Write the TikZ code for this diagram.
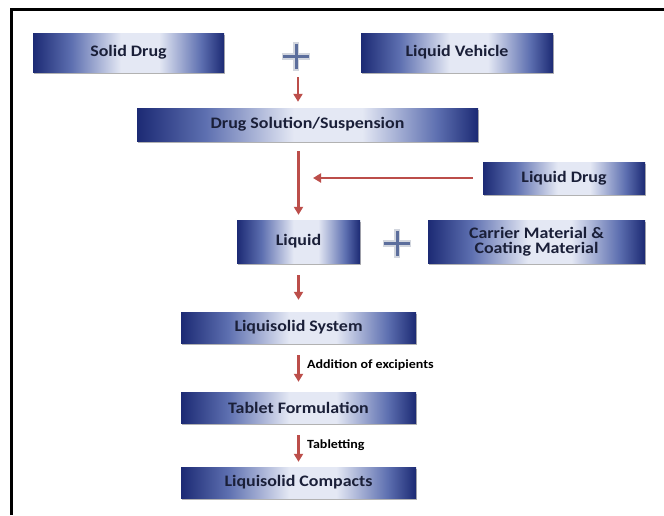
\documentclass[tikz,border=0pt]{standalone}
\usepackage{fontspec}
\setmainfont{Carlito}
\newfontfamily\boxfont[FakeStretch=1.12]{Carlito}
\usetikzlibrary{shadows,arrows.meta}
\definecolor{navy}{HTML}{1C2A74}
\definecolor{boxmid}{HTML}{5D6FB0}
\definecolor{boxlight}{HTML}{E4E8F4}
\definecolor{arrowred}{HTML}{BC4E4A}
\definecolor{boxtext}{HTML}{1A1F38}
\definecolor{plusblue}{HTML}{5C6E9C}
\definecolor{plusedge}{HTML}{D2D6DE}
\pgfdeclarehorizontalshading{boxshade}{100bp}{color(0bp)=(navy); color(25bp)=(navy); color(35bp)=(boxmid); color(48bp)=(boxlight); color(58bp)=(boxlight); color(69bp)=(boxmid); color(75bp)=(navy); color(100bp)=(navy)}
\tikzset{
  stage/.style={rectangle, shading=boxshade, shading angle=0, draw=none,
    inner sep=0pt, text=boxtext, align=center,
    font=\boxfont\bfseries\fontsize{16}{17}\selectfont,
    drop shadow={shadow xshift=0.8pt, shadow yshift=-1.5pt, opacity=0.3, fill=black}},
  flow/.style={draw=arrowred, line width=2.2pt, -{Triangle[length=8pt,width=9pt]}},
  plussign/.style={minimum size=28pt, inner sep=0pt},
  plusouter/.style={draw=plusedge, line width=6.5pt},
  plusinner/.style={draw=plusblue, line width=3pt},
  note/.style={anchor=west, inner sep=0pt, text=black, font=\boxfont\bfseries\fontsize{12.5}{14}\selectfont},
  frameline/.style={draw=black, line width=3pt}
}
\begin{document}
\begin{tikzpicture}[x=1pt,y=-1pt]
\useasboundingbox (0,0) rectangle (664,515);
\fill[white] (0,0) rectangle (664,515);
% frame
\coordinate (fa) at (11,515);
\coordinate (fb) at (11,9);
\coordinate (fc) at (664,9);
\draw[frameline] (fa) -- (fb) -- (fc);

% boxes
\node[stage, minimum width=191pt, minimum height=39pt] (solid) at (128.5,52.5) {Solid Drug};
\node[stage, minimum width=192pt, minimum height=39pt] (vehicle) at (457,52.5) {Liquid Vehicle};
\node[plussign] (plus1) at (296,56.5) {};
\node[stage, minimum width=341pt, minimum height=33pt] (sol) at (307.5,124.5) {Drug Solution/Suspension};
\node[stage, minimum width=162pt, minimum height=32pt] (ldrug) at (564,178) {Liquid Drug};
\node[stage, minimum width=123pt, minimum height=43pt] (liquid) at (298.5,241.5) {Liquid};
\node[plussign] (plus2) at (397,243.5) {};
\node[stage, minimum width=217pt, minimum height=43pt] (carrier) at (536.5,241.5) {Carrier Material \&\\[-2pt]Coating Material};
\node[stage, minimum width=235pt, minimum height=31pt] (lsys) at (298.5,327.5) {Liquisolid System};
\node[stage, minimum width=235pt, minimum height=31pt] (tab) at (298.5,407.5) {Tablet Formulation};
\node[stage, minimum width=235pt, minimum height=31pt] (comp) at (298.5,482.5) {Liquisolid Compacts};

% plus signs
\foreach \p in {plus1,plus2}{
  \draw[plusouter] (\p.north) -- (\p.south);
  \draw[plusouter] (\p.west) -- (\p.east);
  \draw[plusinner] ([yshift=-1.5pt]\p.north) -- ([yshift=1.5pt]\p.south);
  \draw[plusinner] ([xshift=1.5pt]\p.west) -- ([xshift=-1.5pt]\p.east);
}

% connectors
\coordinate (join) at (313,178);
\draw[flow, shorten <=6.5pt, shorten >=6pt] ([xshift=2pt]plus1.south) -- ([xshift=2pt]plus1.south |- sol.north);
\draw[flow, shorten <=10pt, shorten >=5pt] (liquid.north |- sol.south) -- (liquid.north);
\draw[flow, shorten <=10pt] (ldrug.west) -- (join);
\draw[flow, shorten <=12pt, shorten >=12pt] (liquid.south) -- (lsys.north);
\draw[flow, shorten <=12pt, shorten >=10pt] (lsys.south) -- (tab.north);
\draw[flow, shorten <=12pt, shorten >=5pt] (tab.south) -- (comp.north);

% labels
\node[note] (addlab) at (307,365) {Addition of excipients};
\node[note] (tablab) at (307,445) {Tabletting};
\end{tikzpicture}
\end{document}
